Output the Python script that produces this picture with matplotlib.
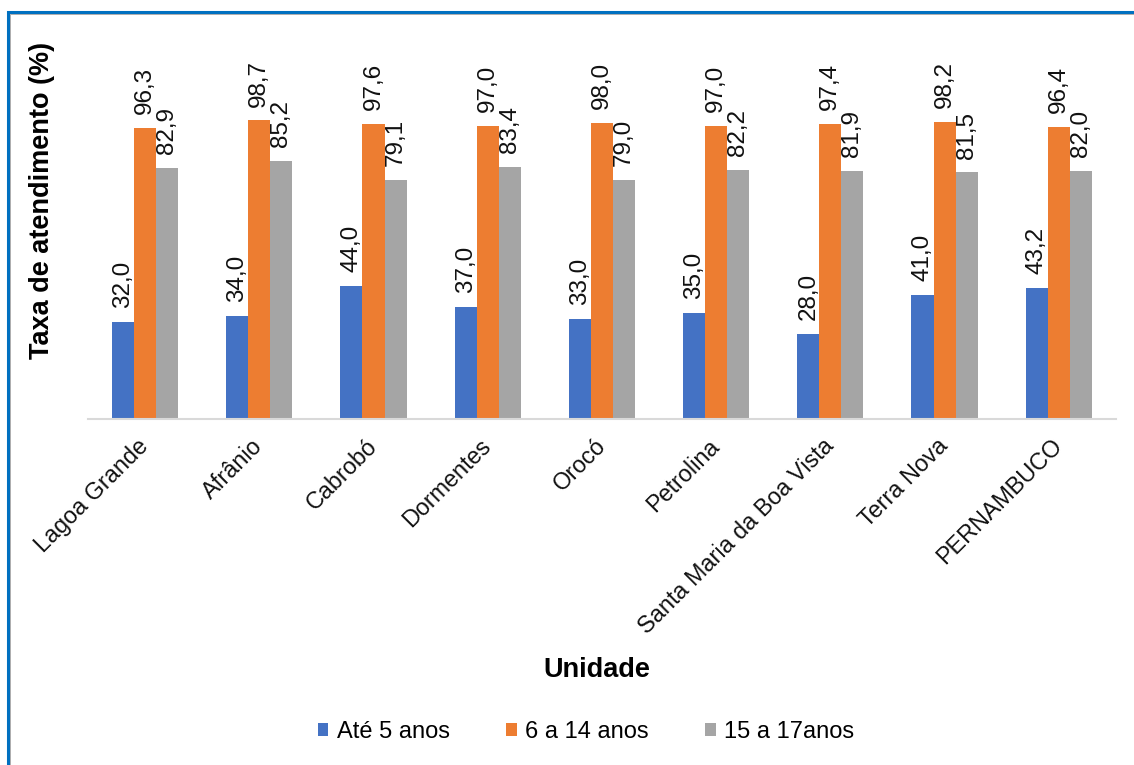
import numpy as np
import matplotlib.pyplot as plt
from matplotlib.patches import Rectangle

plt.rcParams['font.family'] = ['Liberation Sans', 'DejaVu Sans']

#### DATA ####
unidades = ['Lagoa Grande', 'Afrânio', 'Cabrobó', 'Dormentes', 'Orocó', 'Petrolina',
            'Santa Maria da Boa Vista', 'Terra Nova', 'PERNAMBUCO']
ate5 = [32.0, 34.0, 44.0, 37.0, 33.0, 35.0, 28.0, 41.0, 43.2]
de6a14 = [96.3, 98.7, 97.6, 97.0, 98.0, 97.0, 97.4, 98.2, 96.4]
de15a17 = [82.9, 85.2, 79.1, 83.4, 79.0, 82.2, 81.9, 81.5, 82.0]
series_names = ['Até 5 anos', '6 a 14 anos', '15 a 17anos']
colors = ['#4472C4', '#ED7D31', '#A5A5A5']

### FIGURE ###
fig = plt.figure(figsize=(11.34, 7.65), dpi=100)
ax = fig.add_axes([0.0776, 0.4523, 0.9064, 0.4745])

x = np.arange(len(unidades))
w = 0.193
for i, (vals, name, c) in enumerate(zip([ate5, de6a14, de15a17], series_names, colors)):
    pos = x + (i - 1) * w
    bars = ax.bar(pos, vals, width=w, color=c, label=name)
    for b, v in zip(bars, vals):
        ax.annotate(f'{v:.1f}'.replace('.', ','), (b.get_x() + b.get_width() / 2, v),
                    xytext=(0, 10), textcoords='offset points', rotation=90,
                    ha='center', va='bottom', fontsize=17.5, color='#111111')

ax.set_xlim(-0.5, len(unidades) - 0.5)
ax.set_ylim(0, 120)
ax.set_yticks([])
for s in ['top', 'right', 'left']:
    ax.spines[s].set_visible(False)
ax.spines['bottom'].set_color('#d9d9d9')
ax.spines['bottom'].set_linewidth(1.5)
ax.tick_params(axis='x', length=0, pad=17)
ax.set_xticks(x)
ax.set_xticklabels(unidades, rotation=45, ha='right', va='center',
                   rotation_mode='anchor', fontsize=16.8, color='#111111')

fig.text(42 / 1134, 1 - 200 / 765, 'Taxa de atendimento (%)', rotation=90,
         ha='center', va='center', fontsize=19.5, fontweight='bold')
fig.text(597 / 1134, 1 - 670 / 765, 'Unidade', ha='center', va='center',
         fontsize=19.5, fontweight='bold')

fig.legend(loc='center', bbox_to_anchor=(586 / 1134, 1 - 732 / 765), ncol=3,
           frameon=False, fontsize=17, handlelength=0.45, handleheight=0.45,
           handletextpad=0.35, columnspacing=2.4)

# border of the original frame
fig.patches.append(Rectangle((8 / 1134, -0.2), 1.2, 1.2 - 12 / 765,
                             transform=fig.transFigure, fill=False,
                             edgecolor='#0070C0', linewidth=2.2, zorder=10))
fig.patches.append(Rectangle((10 / 1134, -0.2), 1.2, 1.2 - 14 / 765,
                             transform=fig.transFigure, fill=False,
                             edgecolor='#a0a0a0', linewidth=0.6, zorder=10))

fig.savefig('out.png', dpi=100)
